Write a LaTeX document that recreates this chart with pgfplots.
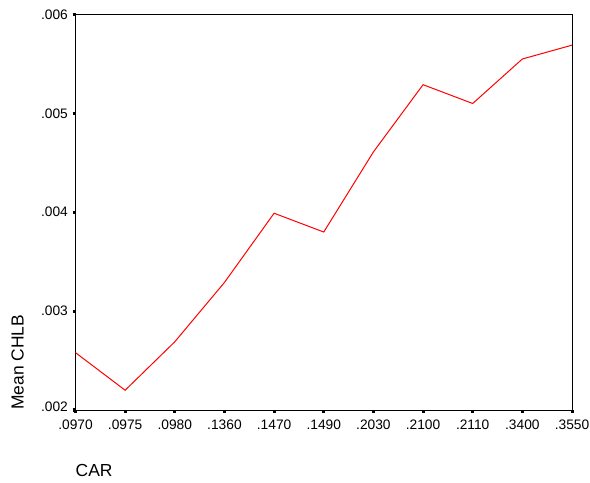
\documentclass[border=0pt]{standalone}
\usepackage{fontspec}
\setmainfont{Liberation Sans}
\usepackage{pgfplots}
\pgfplotsset{compat=1.18}
\begin{document}
\begin{tikzpicture}
\useasboundingbox (0,0) rectangle (590bp,483bp);
\begin{axis}[
  at={(75.5bp,73bp)}, anchor=south west,
  scale only axis, width=496.5bp, height=395.5bp,
  xmin=0, xmax=10, ymin=0.002, ymax=0.006,
  scaled y ticks=false, scaled x ticks=false,
  xtick={0,...,10},
  xticklabels={.0970,.0975,.0980,.1360,.1470,.1490,.2030,.2100,.2110,.3400,.3550},
  ytick={0.002,0.003,0.004,0.005,0.006},
  yticklabels={\raisebox{6bp}{.002},.003,.004,.005,.006},
  axis line style={line width=1bp},
  tick align=outside, major tick length=3bp,
  tick style={line width=3bp, black},
  xtick pos=bottom, ytick pos=left,
  /pgf/number format/assume math mode=true,
  tick label style={font=\fontsize{13.8}{16}\selectfont, inner sep=0pt},
  xticklabel style={anchor=north, yshift=-7bp},
  yticklabel style={anchor=east, xshift=-4.5bp},
  xlabel={CAR}, ylabel={Mean CHLB},
  label style={font=\fontsize{17.5}{20}\selectfont, inner sep=0pt},
  xlabel style={at={(axis description cs:0,-0.1669)}, anchor=base west},
  ylabel style={at={(axis description cs:-0.1047,0)}, anchor=base west},
  clip=false,
]
\addplot[red, line width=1bp, mark=none] coordinates {
  (0,0.00258) (1,0.00220) (2,0.00269) (3,0.00329) (4,0.00399) (5,0.00380)
  (6,0.00461) (7,0.00529) (8,0.00510) (9,0.00555) (10,0.00569)
};
\end{axis}
\end{tikzpicture}
\end{document}
